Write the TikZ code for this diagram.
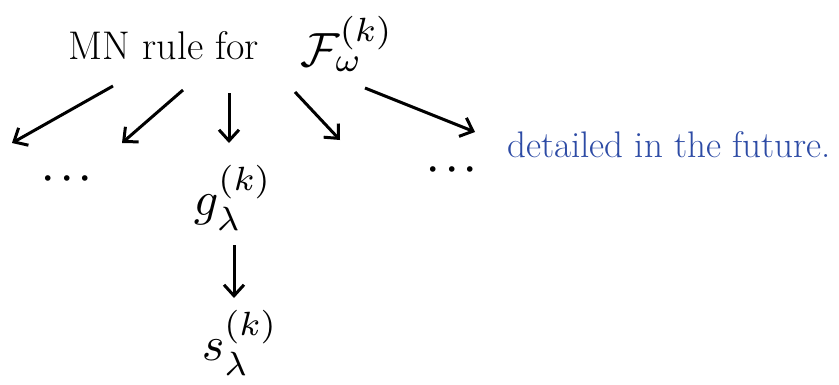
\documentclass[tikz,border=0pt]{standalone}
\usepackage{graphicx}
\usetikzlibrary{arrows.meta}
\newcommand{\bigmath}[1]{\scalebox{4.8}{$#1$}}
\newcommand{\bigdots}{\scalebox{3.6}{\boldmath$\cdots$}}
\begin{document}
\begin{tikzpicture}[x=1pt,y=-1pt,
  arr/.style={line width=3pt,-{Straight Barb[length=11pt,width=20pt,line width=3pt]}},
  big/.style={font=\fontsize{40}{44}\selectfont, inner sep=0pt},
  mth/.style={inner sep=0pt},
  note/.style={font=\fontsize{37}{40}\selectfont, text=noteblue, inner sep=0pt}]
\definecolor{noteblue}{RGB}{45,75,165}
\useasboundingbox (0,0) rectangle (839,384);
\node[big] (title) at (164,46) {MN rule for};
\node[mth] (F) at (347,44) {\bigmath{\mathcal{F}_{\omega}^{(k)}}};
\node[mth] (dots1) at (67,179) {\bigdots};
\node[mth] (dots2) at (452,170) {\bigdots};
\node[mth] (g) at (233,198) {\bigmath{g_{\lambda}^{(k)}}};
\node[mth] (s) at (240,343) {\bigmath{s_{\lambda}^{(k)}}};
\node[note] (note) at (669,145) {detailed in the future.};
\coordinate (a1s) at (113,86);  \coordinate (a1e) at (12,143);
\coordinate (a2s) at (183,90);  \coordinate (a2e) at (122,143);
\coordinate (a3s) at (229,93);  \coordinate (a3e) at (229,143);
\coordinate (a4s) at (295,92);  \coordinate (a4e) at (340,140);
\coordinate (a5s) at (365,88);  \coordinate (a5e) at (475,132);
\coordinate (a6s) at (234,245); \coordinate (a6e) at (234,298);
\draw[arr] (a1s) -- (a1e);
\draw[arr] (a2s) -- (a2e);
\draw[arr] (a3s) -- (a3e);
\draw[arr] (a4s) -- (a4e);
\draw[arr] (a5s) -- (a5e);
\draw[arr] (a6s) -- (a6e);
\end{tikzpicture}
\end{document}
